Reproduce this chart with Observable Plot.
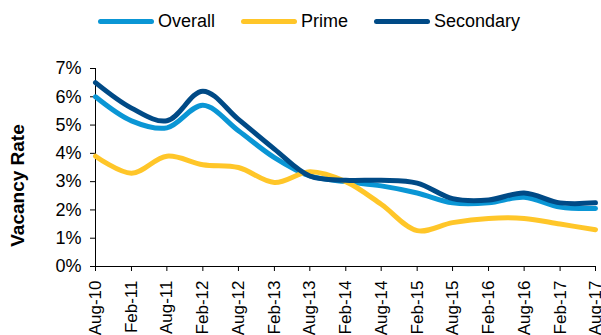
<!DOCTYPE html>
<html>
<head>
<meta charset="utf-8">
<script src="https://cdn.jsdelivr.net/npm/d3@7"></script>
<script src="https://cdn.jsdelivr.net/npm/@observablehq/plot@0.6"></script>
<style>
  body { margin: 0; background: #fff; font-family: "Liberation Sans", Arial, sans-serif; }
  #legend { position: relative; width: 601px; height: 40px; }
  .item { position: absolute; top: 10px; height: 22px; display: flex; align-items: center; font-size: 18px; color: #000; white-space: nowrap; }
  .swatch { width: 56px; height: 5px; border-radius: 3px; margin-right: 4px; }
  #chart svg { display: block; }
</style>
</head>
<body>
<div id="legend"></div>
<div id="chart"></div>
<script>
// Half-yearly survey periods
const periods = ["Aug-10", "Feb-11", "Aug-11", "Feb-12", "Aug-12", "Feb-13", "Aug-13", "Feb-14",
                 "Aug-14", "Feb-15", "Aug-15", "Feb-16", "Aug-16", "Feb-17", "Aug-17"];

// Vacancy rate, %
const overall   = [6.0, 5.15, 4.9, 5.7, 4.8, 3.85, 3.2, 3.0, 2.85, 2.6, 2.25, 2.25, 2.45, 2.1, 2.05];
const prime     = [3.9, 3.3, 3.9, 3.6, 3.5, 2.97, 3.35, 3.0, 2.2, 1.27, 1.55, 1.7, 1.7, 1.5, 1.3];
const secondary = [6.5, 5.6, 5.15, 6.2, 5.2, 4.15, 3.2, 3.05, 3.05, 2.95, 2.4, 2.35, 2.6, 2.25, 2.25];

const seriesNames  = ["Overall", "Prime", "Secondary"];
const seriesValues = [overall, prime, secondary];
const seriesColors = ["#0a96d5", "#ffc629", "#004a86"];

const yTicks = [0, 1, 2, 3, 4, 5, 6, 7];

const parsePeriod = d3.utcParse("%b-%y");
const formatPeriod = d3.utcFormat("%b-%y");
const dates = periods.map(parsePeriod);

const rows = seriesNames.flatMap((name, s) =>
  seriesValues[s].map((v, i) => ({series: name, date: dates[i], value: v}))
);

// Legend
const legend = document.getElementById("legend");
const legendLeft = [98, 241, 374];
seriesNames.forEach((name, i) => {
  const item = document.createElement("div");
  item.className = "item";
  item.style.left = legendLeft[i] + "px";
  const sw = document.createElement("span");
  sw.className = "swatch";
  sw.style.background = seriesColors[i];
  const label = document.createElement("span");
  label.textContent = name;
  item.append(sw, label);
  legend.append(item);
});

const chart = Plot.plot({
  width: 601,
  height: 295,
  marginTop: 28,
  marginBottom: 69,
  marginLeft: 95,
  marginRight: 6,
  style: {fontFamily: "'Liberation Sans', Arial, sans-serif", color: "#000", background: "#fff"},
  x: {type: "utc", domain: [dates[0], dates[dates.length - 1]]},
  y: {domain: [0, 7]},
  color: {domain: seriesNames, range: seriesColors},
  marks: [
    Plot.axisY({ticks: yTicks, tickFormat: (d) => d + "%", tickSize: 5, tickPadding: 9,
                fontSize: 18, label: null, stroke: "#000"}),
    Plot.axisX({ticks: dates, tickFormat: formatPeriod, tickSize: 5, tickPadding: 9,
                tickRotate: -90, fontSize: 17, label: null, stroke: "#000"}),
    Plot.ruleX([dates[0]], {stroke: "#000", strokeWidth: 1}),
    Plot.ruleY([0], {stroke: "#000", strokeWidth: 1}),
    Plot.line(rows, {x: "date", y: "value", z: "series", stroke: "series",
                     strokeWidth: 5, curve: "catmull-rom", strokeLinecap: "round"}),
    Plot.text(["Vacancy Rate"], {frameAnchor: "left", textAnchor: "middle", rotate: -90,
                                 dx: -78, dy: 18, fontSize: 19, fontWeight: "bold", fill: "#000"})
  ]
});
document.getElementById("chart").append(chart);
</script>
</body>
</html>
